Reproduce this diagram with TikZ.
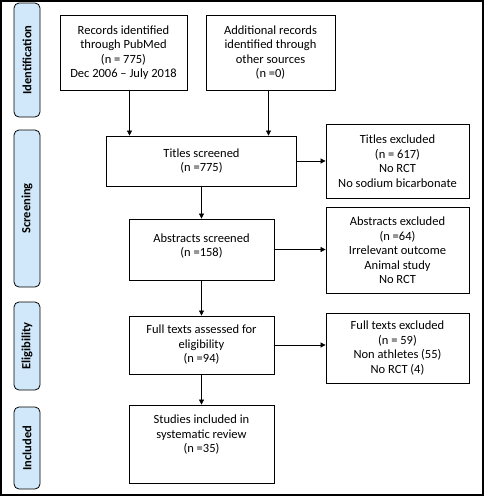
\documentclass[tikz,border=0pt]{standalone}
\usepackage{fontspec}
\setmainfont{Carlito}
\usetikzlibrary{arrows.meta}
\definecolor{phasefill}{RGB}{208,232,250}
\begin{document}
\begin{tikzpicture}[x=1pt, y=-1pt,
    box/.style={draw=black, line width=0.8pt, align=center, inner sep=2pt,
      font=\fontsize{12.5}{14.5}\selectfont},
    phase/.style={draw=black, line width=0.8pt, fill=phasefill, rounded corners=5pt,
      rotate=90, minimum height=26pt, inner sep=0pt,
      font=\fontsize{12.5}{14.5}\selectfont\bfseries},
    arr/.style={-{Triangle[length=5pt,width=5pt]}, line width=0.7pt}]
    \useasboundingbox (0,0) rectangle (484,496);
    \draw[line width=1.4pt] (1,1) rectangle (483,495);
    \node[phase, minimum width=114pt] (ident) at (27,60) {Identification};
    \node[phase, minimum width=157pt] (screen) at (27,208.5) {Screening};
    \node[phase, minimum width=88pt] (elig) at (27,346) {Eligibility};
    \node[phase, minimum width=82pt] (incl) at (27,448) {Included};
    \node[box, minimum width=127pt, minimum height=75pt] (pubmed) at (123.5,52.5)
      {Records identified\\ through PubMed\\ (n = 775)\\ Dec 2006 -- July 2018};
    \node[box, minimum width=129pt, minimum height=75pt] (other) at (270.5,52.5)
      {Additional records\\ identified through\\ other sources\\ (n =0)};
    \node[box, minimum width=190pt, minimum height=50pt] (titles) at (201.5,161)
      {Titles screened\\ (n =775)};
    \node[box, minimum width=143pt, minimum height=74pt] (titlesex) at (397.5,161)
      {Titles excluded\\ (n = 617)\\ No RCT\\ No sodium bicarbonate};
    \node[box, minimum width=145pt, minimum height=61pt, text depth=9pt] (abstracts) at (201.5,249.5)
      {Abstracts screened\\ (n =158)};
    \node[box, minimum width=143pt, minimum height=86pt] (abstractsex) at (397.5,250.5)
      {Abstracts excluded\\ (n =64)\\ Irrelevant outcome\\ Animal study\\ No RCT};
    \node[box, minimum width=145pt, minimum height=58pt] (fulltext) at (201.5,345)
      {Full texts assessed for\\ eligibility\\ (n =94)};
    \node[box, minimum width=143pt, minimum height=70pt] (fulltextex) at (397.5,348)
      {Full texts excluded\\ (n = 59)\\ Non athletes (55)\\ No RCT (4)};
    \node[box, minimum width=145pt, minimum height=78pt, text depth=20pt] (included) at (201.5,444)
      {Studies included in\\ systematic review\\ (n =35)};
    \coordinate (p1) at ([xshift=6pt]pubmed.south);
    \draw[arr] (p1) -- (p1 |- titles.north);
    \coordinate (p2) at ([xshift=-2pt]other.south);
    \draw[arr] (p2) -- (p2 |- titles.north);
    \draw[arr] (titles.east) -- (titles.east -| titlesex.west);
    \draw[arr] (titles.south) -- (titles.south |- abstracts.north);
    \draw[arr] (abstracts.east) -- (abstracts.east -| abstractsex.west);
    \draw[arr] (abstracts.south) -- (fulltext.north);
    \draw[arr] (fulltext.east) -- (fulltext.east -| fulltextex.west);
    \draw[arr] (fulltext.south) -- (included.north);
\end{tikzpicture}
\end{document}
